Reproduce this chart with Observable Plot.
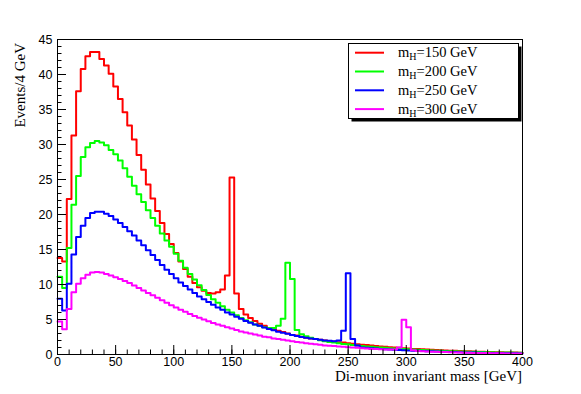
<!DOCTYPE html>
<html><head><meta charset="utf-8">
<script src="https://cdn.jsdelivr.net/npm/d3@7"></script>
<script src="https://cdn.jsdelivr.net/npm/@observablehq/plot@0.6"></script>
<style>
html,body{margin:0;padding:0;background:#fff;}
#chart svg{display:block;}
</style></head><body><div id="chart"></div>
<script>
// Histogram: 100 bins of 4 GeV from 0 to 400 GeV
const binWidth = 4;
const massMin = 0;
const higgsMasses = ["150", "200", "250", "300"];
const seriesColors = ["#ff0000", "#00ff00", "#0000ff", "#ff00ff"];

const events150 = [13.8, 13.3, 22.2, 31.3, 37.6, 40.8, 42.6, 43.2, 43.2, 42.2,
 41.3, 40.1, 38.3, 36.5, 34.6, 32.7, 30.7, 28.5, 26.4, 24.3,
 22.3, 20.5, 18.8, 17.2, 15.8, 14.5, 13.3, 12.2, 11.1, 10.2,
 9.6, 9.1, 8.8, 8.7, 8.9, 9.3, 11.3, 25.3, 8.7, 6.5,
 5.7, 5.2, 4.8, 4.4, 4.1, 3.8, 3.6, 3.4, 3.2, 3.0,
 2.8, 2.7, 2.55, 2.4, 2.3, 2.2, 2.1, 2.0, 1.9, 1.85,
 1.75, 1.7, 1.6, 1.55, 1.45, 1.4, 1.35, 1.3, 1.2, 1.15,
 1.1, 1.05, 1.0, 0.95, 0.9, 0.85, 0.8, 0.78, 0.75, 0.7,
 0.68, 0.65, 0.6, 0.58, 0.55, 0.52, 0.5, 0.48, 0.45, 0.43,
 0.41, 0.39, 0.37, 0.35, 0.33, 0.31, 0.3, 0.28, 0.27, 0.26];

const events200 = [11.1, 9.5, 15.2, 21.4, 25.5, 28.2, 29.6, 30.2, 30.5, 30.3,
 29.9, 29.2, 28.6, 27.7, 26.6, 25.4, 24.1, 22.9, 21.8, 20.6,
 19.5, 18.4, 17.3, 16.3, 15.4, 14.4, 13.4, 12.4, 11.5, 10.7,
 9.9, 9.2, 8.5, 7.9, 7.4, 6.9, 6.4, 6.0, 5.6, 5.2,
 4.9, 4.6, 4.3, 4.1, 3.9, 3.8, 3.8, 4.1, 5.1, 13.1,
 10.8, 3.5, 2.9, 2.6, 2.4, 2.2, 2.05, 1.9, 1.8, 1.7,
 1.6, 1.5, 1.45, 1.35, 1.3, 1.2, 1.15, 1.1, 1.05, 1.0,
 0.95, 0.9, 0.85, 0.8, 0.77, 0.74, 0.7, 0.67, 0.64, 0.6,
 0.58, 0.55, 0.52, 0.5, 0.48, 0.46, 0.44, 0.42, 0.4, 0.38,
 0.36, 0.35, 0.33, 0.32, 0.3, 0.29, 0.28, 0.27, 0.26, 0.25];

const events250 = [7.95, 6.3, 10.1, 14.3, 16.8, 18.4, 19.5, 20.2, 20.4, 20.4,
 20.1, 19.8, 19.3, 18.8, 18.2, 17.6, 17.0, 16.3, 15.6, 14.9,
 14.2, 13.5, 12.8, 12.1, 11.5, 10.9, 10.3, 9.8, 9.3, 8.8,
 8.3, 7.9, 7.5, 7.1, 6.7, 6.4, 6.0, 5.7, 5.4, 5.1,
 4.8, 4.55, 4.3, 4.1, 3.85, 3.65, 3.45, 3.25, 3.1, 2.95,
 2.8, 2.65, 2.5, 2.4, 2.3, 2.2, 2.1, 2.0, 1.95, 1.9,
 2.0, 3.4, 11.6, 2.2, 1.3, 1.0, 0.95, 0.9, 0.85, 0.8,
 0.75, 0.72, 0.68, 0.65, 0.62, 0.58, 0.55, 0.52, 0.5, 0.47,
 0.45, 0.42, 0.4, 0.38, 0.36, 0.34, 0.32, 0.3, 0.29, 0.27,
 0.26, 0.24, 0.23, 0.22, 0.21, 0.2, 0.19, 0.18, 0.17, 0.16];

const events300 = [4.7, 3.6, 6.5, 8.9, 10.1, 10.9, 11.4, 11.7, 11.8, 11.7,
 11.5, 11.3, 11.05, 10.8, 10.5, 10.2, 9.85, 9.5, 9.15, 8.8,
 8.45, 8.1, 7.75, 7.4, 7.05, 6.7, 6.4, 6.1, 5.8, 5.5,
 5.25, 5.0, 4.75, 4.5, 4.3, 4.1, 3.9, 3.7, 3.5, 3.3,
 3.15, 3.0, 2.85, 2.7, 2.55, 2.45, 2.3, 2.2, 2.1, 2.0,
 1.9, 1.8, 1.7, 1.6, 1.55, 1.45, 1.4, 1.3, 1.25, 1.2,
 1.15, 1.1, 1.05, 1.0, 0.95, 0.9, 0.85, 0.8, 0.78, 0.75,
 0.72, 0.7, 0.7, 1.0, 4.95, 3.9, 0.6, 0.5, 0.47, 0.44,
 0.41, 0.38, 0.36, 0.34, 0.32, 0.3, 0.28, 0.26, 0.25, 0.23,
 0.22, 0.21, 0.2, 0.19, 0.18, 0.17, 0.16, 0.15, 0.15, 0.14];

const xMajorTicks = [0, 50, 100, 150, 200, 250, 300, 350, 400];
const xMinorTicks = d3.range(0, 401, 10);
const yMajorTicks = [0, 5, 10, 15, 20, 25, 30, 35, 40, 45];
const yMinorTicks = d3.range(0, 46, 1);
const xTitle = "Di-muon invariant mass [GeV]";
const yTitle = "Events/4 GeV";

const allSeries = [events150, events200, events250, events300];
const rows = [];
allSeries.forEach((vals, s) => {
  vals.forEach((v, i) => rows.push({mass: higgsMasses[s], x: massMin + i * binWidth, v}));
  rows.push({mass: higgsMasses[s], x: massMin + vals.length * binWidth, v: vals[vals.length - 1]});
});

const W = 581, H = 394;
const mL = 57, mR = 59, mT = 39, mB = 40;
const innerW = W - mL - mR, innerH = H - mT - mB;
const majorLen = 9, minorLen = 4.5;

const plot = Plot.plot({
  width: W, height: H,
  marginLeft: mL, marginRight: mR, marginTop: mT, marginBottom: mB,
  x: {domain: [0, 400]},
  y: {domain: [0, 45]},
  color: {domain: higgsMasses, range: seriesColors},
  style: {fontFamily: "'Liberation Sans', Arial, Helvetica, sans-serif", fontSize: "12px", background: "white", color: "black", overflow: "visible"},
  marks: [
    Plot.line(rows, {x: "x", y: "v", z: "mass", stroke: "mass", curve: "step-after", strokeWidth: 2}),
    Plot.tickX(xMinorTicks, {x: d => d, stroke: "black", strokeWidth: 1, insetTop: innerH - minorLen}),
    Plot.tickX(xMajorTicks, {x: d => d, stroke: "black", strokeWidth: 1, insetTop: innerH - majorLen}),
    Plot.tickY(yMinorTicks, {y: d => d, stroke: "black", strokeWidth: 1, insetRight: innerW - minorLen}),
    Plot.tickY(yMajorTicks, {y: d => d, stroke: "black", strokeWidth: 1, insetRight: innerW - majorLen}),
    Plot.axisX({ticks: xMajorTicks, tickSize: 0, tickPadding: 3, label: null, fontSize: 12.5}),
    Plot.axisY({ticks: yMajorTicks, tickSize: 0, tickPadding: 5, label: null, fontSize: 12.5}),
    Plot.frame({stroke: "black", strokeWidth: 1})
  ]
});
document.getElementById("chart").appendChild(plot);

const svg = d3.select(plot);
const serif = "'Liberation Serif', 'Times New Roman', Times, serif";

svg.append("text")
  .attr("transform", "translate(25,43) rotate(-90)")
  .attr("text-anchor", "end")
  .attr("font-family", serif).attr("font-size", 15).attr("fill", "black")
  .text(yTitle);

svg.append("text")
  .attr("x", W - mR).attr("y", 381)
  .attr("text-anchor", "end")
  .attr("font-family", serif).attr("font-size", 15).attr("fill", "black")
  .text(xTitle);

// Legend box with shadow
const lg = svg.append("g");
const bx = 348.5, by = 43.5, bw = 170, bh = 75;
lg.append("rect").attr("x", bx + 3).attr("y", by + 3).attr("width", bw).attr("height", bh).attr("fill", "black");
lg.append("rect").attr("x", bx).attr("y", by).attr("width", bw).attr("height", bh).attr("fill", "white").attr("stroke", "black").attr("stroke-width", 1);
higgsMasses.forEach((m, i) => {
  const cy = 52.7 + i * 18.8;
  lg.append("line").attr("x1", 355).attr("x2", 384).attr("y1", cy).attr("y2", cy)
    .attr("stroke", seriesColors[i]).attr("stroke-width", 2);
  const t = lg.append("text").attr("x", 398).attr("y", cy + 4.5)
    .attr("text-anchor", "start")
    .attr("font-family", serif).attr("font-size", 14.5).attr("fill", "black");
  t.append("tspan").text("m");
  t.append("tspan").attr("font-size", 10).attr("dy", 3).text("H");
  t.append("tspan").attr("dy", -3).text("=" + m + " GeV");
});
</script>
</body></html>
